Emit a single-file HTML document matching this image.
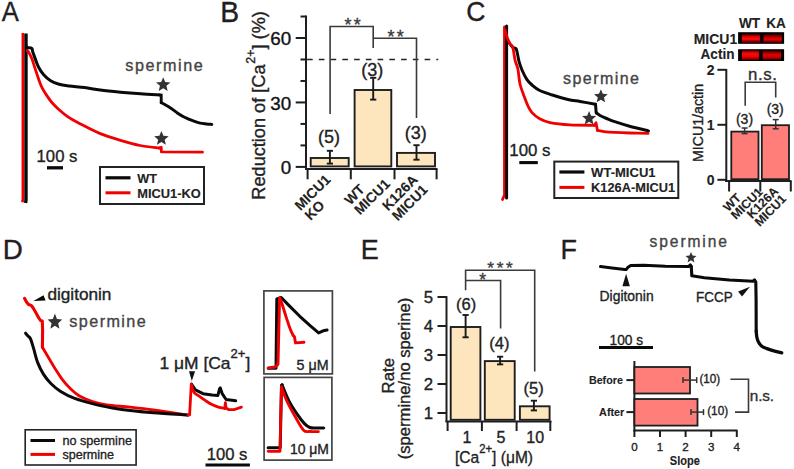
<!DOCTYPE html>
<html><head><meta charset="utf-8"><style>
html,body{margin:0;padding:0;background:#fff;}
svg{display:block;font-family:"Liberation Sans",sans-serif;}
</style></head><body>
<svg width="794" height="469" viewBox="0 0 794 469">
<defs>
<linearGradient id="gb1" x1="0" y1="0" x2="0" y2="1"><stop offset="0" stop-color="#400"/><stop offset="0.3" stop-color="#e00"/><stop offset="0.55" stop-color="#ff1010"/><stop offset="0.75" stop-color="#900"/><stop offset="1" stop-color="#300"/></linearGradient>
<linearGradient id="gb2" x1="0" y1="0" x2="0" y2="1"><stop offset="0" stop-color="#300"/><stop offset="0.35" stop-color="#b00"/><stop offset="0.6" stop-color="#e00"/><stop offset="0.8" stop-color="#800"/><stop offset="1" stop-color="#200"/></linearGradient>
<linearGradient id="gb3" x1="0" y1="0" x2="0" y2="1"><stop offset="0" stop-color="#700"/><stop offset="0.35" stop-color="#ff0a0a"/><stop offset="0.65" stop-color="#e00"/><stop offset="1" stop-color="#500"/></linearGradient>
<linearGradient id="gb4" x1="0" y1="0" x2="0" y2="1"><stop offset="0" stop-color="#400"/><stop offset="0.4" stop-color="#d00"/><stop offset="0.7" stop-color="#c00"/><stop offset="1" stop-color="#400"/></linearGradient>
</defs>
<rect width="794" height="469" fill="#fff"/>
<text stroke="#221e1f" stroke-width="0.35" x="0" y="0" font-size="27.9" fill="#221e1f" text-anchor="start" font-weight="normal" transform="translate(1.85,21.3) scale(0.92,1)">A</text>
<text stroke="#221e1f" stroke-width="0.35" x="0" y="0" font-size="28.6" fill="#221e1f" text-anchor="start" font-weight="normal" transform="translate(220.2,21.7) scale(0.99,1)">B</text>
<text stroke="#221e1f" stroke-width="0.35" x="0" y="0" font-size="27.5" fill="#221e1f" text-anchor="start" font-weight="normal" transform="translate(466.3,21.3) scale(0.965,1)">C</text>
<text stroke="#221e1f" stroke-width="0.35" x="0" y="0" font-size="27.8" fill="#221e1f" text-anchor="start" font-weight="normal" transform="translate(2.7,259) scale(1.0,1)">D</text>
<text stroke="#221e1f" stroke-width="0.35" x="0" y="0" font-size="27.8" fill="#221e1f" text-anchor="start" font-weight="normal" transform="translate(360.7,259) scale(0.97,1)">E</text>
<text stroke="#221e1f" stroke-width="0.35" x="0" y="0" font-size="27.8" fill="#221e1f" text-anchor="start" font-weight="normal" transform="translate(560.5,259) scale(0.97,1)">F</text>
<path d="M22.90,33.00 L22.90,199.00 L22.40,202.30" fill="none" stroke="#f00000" stroke-width="2.7" stroke-linejoin="round" stroke-linecap="butt"/>
<path d="M26.00,33.50 L26.00,200.00 L25.60,203.00" fill="none" stroke="#0a0a0a" stroke-width="3.4" stroke-linejoin="round" stroke-linecap="butt"/>
<path d="M27.20,50.50 C27.40,50.72 27.63,50.45 28.40,51.80 C29.17,53.15 30.67,55.75 31.80,58.60 C32.93,61.45 34.07,65.48 35.20,68.90 C36.33,72.32 37.47,75.98 38.60,79.10 C39.73,82.22 40.57,84.77 42.00,87.60 C43.43,90.43 45.48,93.53 47.20,96.10 C48.92,98.67 50.32,100.72 52.30,103.00 C54.28,105.28 56.55,107.53 59.10,109.80 C61.65,112.07 64.20,114.33 67.60,116.60 C71.00,118.87 74.05,120.57 79.50,123.40 C84.95,126.23 93.47,130.78 100.30,133.60 C107.13,136.42 113.87,138.32 120.50,140.30 C127.13,142.28 133.65,144.22 140.10,145.50 C146.55,146.78 156.02,147.58 159.20,148.00" fill="none" stroke="#f00000" stroke-width="2.8" stroke-linejoin="round" stroke-linecap="round" />
<path d="M159.20,148.00 L161.20,147.20 L161.40,151.90 L202.50,152.20" fill="none" stroke="#f00000" stroke-width="2.8" stroke-linejoin="round" stroke-linecap="round" />
<path d="M26.50,46.50 C26.68,46.68 26.72,47.28 27.60,47.60 C28.48,47.92 30.95,47.70 31.80,48.40 C32.65,49.10 32.13,50.10 32.70,51.80 C33.27,53.50 34.22,56.03 35.20,58.60 C36.18,61.17 37.18,64.50 38.60,67.20 C40.02,69.90 41.70,72.53 43.70,74.80 C45.70,77.07 48.03,79.23 50.60,80.80 C53.17,82.37 55.98,83.35 59.10,84.20 C62.22,85.05 65.03,85.33 69.30,85.90 C73.57,86.47 79.53,86.90 84.70,87.60 C89.87,88.30 94.33,89.33 100.30,90.10 C106.27,90.87 113.78,91.58 120.50,92.20 C127.22,92.82 134.07,93.35 140.60,93.80 C147.13,94.25 156.52,94.72 159.70,94.90" fill="none" stroke="#0a0a0a" stroke-width="3" stroke-linejoin="round" stroke-linecap="round" />
<path d="M159.70,94.90 L161.20,95.10 L161.20,102.60" fill="none" stroke="#0a0a0a" stroke-width="2.9" stroke-linecap="round" stroke-linejoin="miter"/>
<path d="M161.20,102.60 C162.00,103.03 164.32,104.23 166.00,105.20 C167.68,106.17 169.35,107.07 171.30,108.40 C173.25,109.73 175.57,111.77 177.70,113.20 C179.83,114.63 181.62,115.75 184.10,117.00 C186.58,118.25 189.93,119.68 192.60,120.70 C195.27,121.72 197.78,122.57 200.10,123.10 C202.42,123.63 204.55,123.68 206.50,123.90 C208.45,124.12 210.92,124.32 211.80,124.40" fill="none" stroke="#0a0a0a" stroke-width="3" stroke-linejoin="round" stroke-linecap="round" />
<polygon points="163.20,77.20 165.21,82.03 170.43,82.45 166.45,85.86 167.67,90.95 163.20,88.22 158.73,90.95 159.95,85.86 155.97,82.45 161.19,82.03" fill="#333"/>
<polygon points="161.40,131.00 163.41,135.83 168.63,136.25 164.65,139.66 165.87,144.75 161.40,142.02 156.93,144.75 158.15,139.66 154.17,136.25 159.39,135.83" fill="#333"/>
<text stroke="#444" stroke-width="0.35" x="125.3" y="71.4" font-size="16.2" fill="#444" text-anchor="start" font-weight="normal" textLength="77.5" lengthAdjust="spacing" >spermine</text>
<text stroke="#222" stroke-width="0.35" x="36.6" y="162.2" font-size="17" fill="#222" text-anchor="start" font-weight="normal" textLength="40.8" lengthAdjust="spacingAndGlyphs" >100 s</text>
<line x1="47" y1="167.8" x2="63" y2="167.8" stroke="#0a0a0a" stroke-width="3.3" />
<rect x="100" y="167" width="104" height="37" fill="none" stroke="#222" stroke-width="2"/>
<line x1="105.5" y1="177.8" x2="130.5" y2="177.8" stroke="#0a0a0a" stroke-width="3.2" />
<line x1="105.5" y1="192.8" x2="130.5" y2="192.8" stroke="#f00000" stroke-width="3" />
<text stroke="#222" stroke-width="0.12" x="137.3" y="182.7" font-size="13" fill="#222" text-anchor="start" font-weight="bold" textLength="19.7" lengthAdjust="spacingAndGlyphs" >WT</text>
<text stroke="#222" stroke-width="0.12" x="137.3" y="197.8" font-size="13" fill="#222" text-anchor="start" font-weight="bold" textLength="63.5" lengthAdjust="spacingAndGlyphs" >MICU1-KO</text>
<line x1="306" y1="15.6" x2="306" y2="170" stroke="#1e1e1e" stroke-width="2" />
<line x1="300.5" y1="16.51666666666668" x2="306" y2="16.51666666666668" stroke="#1e1e1e" stroke-width="2" />
<line x1="295.7" y1="38.0" x2="306" y2="38.0" stroke="#1e1e1e" stroke-width="2" />
<line x1="300.5" y1="59.483333333333334" x2="306" y2="59.483333333333334" stroke="#1e1e1e" stroke-width="2" />
<line x1="300.5" y1="80.96666666666667" x2="306" y2="80.96666666666667" stroke="#1e1e1e" stroke-width="2" />
<line x1="295.7" y1="102.45" x2="306" y2="102.45" stroke="#1e1e1e" stroke-width="2" />
<line x1="300.5" y1="123.93333333333334" x2="306" y2="123.93333333333334" stroke="#1e1e1e" stroke-width="2" />
<line x1="300.5" y1="145.41666666666669" x2="306" y2="145.41666666666669" stroke="#1e1e1e" stroke-width="2" />
<line x1="295.7" y1="166.9" x2="306" y2="166.9" stroke="#1e1e1e" stroke-width="2" />
<text stroke="#111" stroke-width="0.35" x="291.2" y="45.3" font-size="18.8" fill="#111" text-anchor="end" font-weight="normal" >60</text>
<text stroke="#111" stroke-width="0.35" x="291.2" y="109.75" font-size="18.8" fill="#111" text-anchor="end" font-weight="normal" >30</text>
<text stroke="#111" stroke-width="0.35" x="291.2" y="174.20000000000002" font-size="18.8" fill="#111" text-anchor="end" font-weight="normal" >0</text>
<line x1="305" y1="169.1" x2="437.5" y2="169.1" stroke="#1e1e1e" stroke-width="2" />
<line x1="307.6" y1="169.1" x2="307.6" y2="179.3" stroke="#1e1e1e" stroke-width="2" />
<line x1="350.8" y1="169.1" x2="350.8" y2="179.3" stroke="#1e1e1e" stroke-width="2" />
<line x1="394.5" y1="169.1" x2="394.5" y2="179.3" stroke="#1e1e1e" stroke-width="2" />
<line x1="436.6" y1="169.1" x2="436.6" y2="179.3" stroke="#1e1e1e" stroke-width="2" />
<line x1="307.1" y1="59.4" x2="438.2" y2="59.4" stroke="#222" stroke-width="1.5" stroke-dasharray="5.6,6.15"/>
<rect x="310.7" y="158" width="38.0" height="8.400000000000006" fill="#fde6bd" stroke="#1e1e1e" stroke-width="1.9"/>
<rect x="354.6" y="90" width="36.69999999999999" height="76.4" fill="#fde6bd" stroke="#1e1e1e" stroke-width="1.9"/>
<rect x="397" y="152.9" width="38" height="13.5" fill="#fde6bd" stroke="#1e1e1e" stroke-width="1.9"/>
<line x1="329.9" y1="150.8" x2="329.9" y2="163.6" stroke="#1a1a1a" stroke-width="1.9" />
<line x1="326.79999999999995" y1="150.8" x2="333.0" y2="150.8" stroke="#1a1a1a" stroke-width="1.9" />
<line x1="326.79999999999995" y1="163.6" x2="333.0" y2="163.6" stroke="#1a1a1a" stroke-width="1.9" />
<line x1="373.2" y1="77.8" x2="373.2" y2="99.6" stroke="#1a1a1a" stroke-width="1.9" />
<line x1="370.09999999999997" y1="77.8" x2="376.3" y2="77.8" stroke="#1a1a1a" stroke-width="1.9" />
<line x1="370.09999999999997" y1="99.6" x2="376.3" y2="99.6" stroke="#1a1a1a" stroke-width="1.9" />
<line x1="416.5" y1="145.2" x2="416.5" y2="159.7" stroke="#1a1a1a" stroke-width="1.9" />
<line x1="413.4" y1="145.2" x2="419.6" y2="145.2" stroke="#1a1a1a" stroke-width="1.9" />
<line x1="413.4" y1="159.7" x2="419.6" y2="159.7" stroke="#1a1a1a" stroke-width="1.9" />
<text stroke="#222" stroke-width="0.35" x="329" y="143.3" font-size="18" fill="#222" text-anchor="middle" font-weight="normal" >(5)</text>
<text stroke="#222" stroke-width="0.35" x="372.2" y="76.1" font-size="18" fill="#222" text-anchor="middle" font-weight="normal" >(3)</text>
<text stroke="#222" stroke-width="0.35" x="415.8" y="139.4" font-size="18" fill="#222" text-anchor="middle" font-weight="normal" >(3)</text>
<path d="M330.10,113.90 L330.10,26.50 L373.20,26.50 L373.20,48.00" fill="none" stroke="#3a3a3a" stroke-width="1.6" stroke-linecap="butt" stroke-linejoin="miter"/>
<path d="M373.20,38.20 L416.50,38.20 L416.50,118.10" fill="none" stroke="#3a3a3a" stroke-width="1.6" stroke-linecap="butt" stroke-linejoin="miter"/>
<text stroke="#3a3a3a" stroke-width="0.35" x="352.6" y="30.6" font-size="18" fill="#3a3a3a" text-anchor="middle" font-weight="normal" textLength="16.2" lengthAdjust="spacing" >**</text>
<text stroke="#3a3a3a" stroke-width="0.35" x="395.6" y="42.5" font-size="18" fill="#3a3a3a" text-anchor="middle" font-weight="normal" textLength="16.2" lengthAdjust="spacing" >**</text>
<text stroke="#222" stroke-width="0.35" transform="translate(264.6,105.4) rotate(-90)" font-size="18.15" fill="#222" text-anchor="middle">Reduction of [Ca<tspan font-size="12.5" dx="0.8" dy="-9.5">2+</tspan><tspan dy="9.5">] (%)</tspan></text>
<text stroke="#222" stroke-width="0.12" transform="translate(300.6,211.2) rotate(-45)" font-size="14" fill="#222" font-weight="bold" text-anchor="start"><tspan x="0" y="0">MICU1</tspan><tspan x="0" y="14">KO</tspan></text>
<text stroke="#222" stroke-width="0.12" transform="translate(350.2,205.7) rotate(-45)" font-size="14" fill="#222" font-weight="bold" text-anchor="start"><tspan x="0" y="0">WT</tspan><tspan x="0" y="14">MICU1</tspan></text>
<text stroke="#222" stroke-width="0.12" transform="translate(387.9,211.5) rotate(-45)" font-size="14" fill="#222" font-weight="bold" text-anchor="start"><tspan x="0" y="0">K126A</tspan><tspan x="0" y="14">MICU1</tspan></text>
<path d="M504.50,27.00 L504.50,195.00 L502.50,199.50" fill="none" stroke="#f00000" stroke-width="2.8" stroke-linejoin="round" stroke-linecap="round" />
<path d="M506.60,26.00 L506.60,198.00" fill="none" stroke="#0a0a0a" stroke-width="3" stroke-linejoin="round" stroke-linecap="round" />
<path d="M506.50,38.00 C507.08,39.00 508.92,42.42 510.00,44.00 C511.08,45.58 512.00,46.73 513.00,47.50 C514.00,48.27 515.25,47.52 516.00,48.60 C516.75,49.68 517.00,51.87 517.50,54.00 C518.00,56.13 518.25,58.73 519.00,61.40 C519.75,64.07 520.70,67.02 522.00,70.00 C523.30,72.98 525.13,76.80 526.80,79.30 C528.47,81.80 529.85,83.13 532.00,85.00 C534.15,86.87 536.30,88.83 539.70,90.50 C543.10,92.17 547.68,93.50 552.40,95.00 C557.12,96.50 563.40,98.42 568.00,99.50 C572.60,100.58 575.42,100.72 580.00,101.50 C584.58,102.28 592.92,103.75 595.50,104.20" fill="none" stroke="#0a0a0a" stroke-width="3" stroke-linejoin="round" stroke-linecap="round" />
<path d="M595.50,104.20 L596.20,113.00" fill="none" stroke="#0a0a0a" stroke-width="3" stroke-linejoin="round" stroke-linecap="round" />
<path d="M596.50,113.00 C597.08,113.42 598.32,114.58 600.00,115.50 C601.68,116.42 604.15,117.47 606.60,118.50 C609.05,119.53 610.87,120.42 614.70,121.70 C618.53,122.98 623.97,124.67 629.60,126.20 C635.23,127.73 645.35,130.12 648.50,130.90" fill="none" stroke="#0a0a0a" stroke-width="3" stroke-linejoin="round" stroke-linecap="round" />
<path d="M505.00,30.00 C505.43,31.40 506.77,36.07 507.60,38.40 C508.43,40.73 509.13,42.52 510.00,44.00 C510.87,45.48 511.97,44.63 512.80,47.30 C513.63,49.97 514.15,56.38 515.00,60.00 C515.85,63.62 517.07,65.00 517.90,69.00 C518.73,73.00 518.92,79.33 520.00,84.00 C521.08,88.67 523.07,93.33 524.40,97.00 C525.73,100.67 526.73,103.40 528.00,106.00 C529.27,108.60 530.05,110.47 532.00,112.60 C533.95,114.73 536.70,117.13 539.70,118.80 C542.70,120.47 544.95,121.58 550.00,122.60 C555.05,123.62 562.58,124.45 570.00,124.90 C577.42,125.35 590.42,125.23 594.50,125.30" fill="none" stroke="#f00000" stroke-width="2.8" stroke-linejoin="round" stroke-linecap="round" />
<path d="M594.50,125.30 L596.00,122.80 L597.50,130.50" fill="none" stroke="#f00000" stroke-width="2.8" stroke-linejoin="round" stroke-linecap="round" />
<path d="M597.50,130.50 C598.58,130.68 601.08,131.28 604.00,131.60 C606.92,131.92 610.67,132.17 615.00,132.40 C619.33,132.63 624.50,132.83 630.00,133.00 C635.50,133.17 645.00,133.33 648.00,133.40" fill="none" stroke="#f00000" stroke-width="2.8" stroke-linejoin="round" stroke-linecap="round" />
<polygon points="600.90,89.20 602.80,93.78 607.75,94.18 603.98,97.40 605.13,102.22 600.90,99.64 596.67,102.22 597.82,97.40 594.05,94.18 599.00,93.78" fill="#333"/>
<polygon points="589.10,111.00 591.06,115.71 596.14,116.11 592.27,119.43 593.45,124.39 589.10,121.73 584.75,124.39 585.93,119.43 582.06,116.11 587.14,115.71" fill="#333"/>
<text stroke="#444" stroke-width="0.35" x="563" y="83.8" font-size="16" fill="#444" text-anchor="start" font-weight="normal" textLength="76" lengthAdjust="spacing" >spermine</text>
<text stroke="#222" stroke-width="0.35" x="509.3" y="155.8" font-size="17" fill="#222" text-anchor="start" font-weight="normal" textLength="41.2" lengthAdjust="spacingAndGlyphs" >100 s</text>
<line x1="519.3" y1="162.6" x2="537.8" y2="162.6" stroke="#0a0a0a" stroke-width="3.1" />
<rect x="554.3" y="161.6" width="124" height="36.4" fill="none" stroke="#222" stroke-width="2"/>
<line x1="559.4" y1="172" x2="584.4" y2="172" stroke="#0a0a0a" stroke-width="3.2" />
<line x1="559.4" y1="187.4" x2="584.4" y2="187.4" stroke="#f00000" stroke-width="3" />
<text stroke="#222" stroke-width="0.12" x="591.1" y="176.8" font-size="13.5" fill="#222" text-anchor="start" font-weight="bold" textLength="64.5" lengthAdjust="spacingAndGlyphs" >WT-MICU1</text>
<text stroke="#222" stroke-width="0.12" x="591.1" y="192.3" font-size="13.5" fill="#222" text-anchor="start" font-weight="bold" textLength="84" lengthAdjust="spacingAndGlyphs" >K126A-MICU1</text>
<text stroke="#222" stroke-width="0.12" x="738.9" y="28.2" font-size="15.5" fill="#222" text-anchor="start" font-weight="bold" textLength="21.3" lengthAdjust="spacingAndGlyphs" >WT</text>
<text stroke="#222" stroke-width="0.12" x="766.2" y="28.2" font-size="15.5" fill="#222" text-anchor="start" font-weight="bold" textLength="19.6" lengthAdjust="spacingAndGlyphs" >KA</text>
<text stroke="#222" stroke-width="0.12" x="693.7" y="43.5" font-size="15.5" fill="#222" text-anchor="start" font-weight="bold" textLength="43.5" lengthAdjust="spacingAndGlyphs" >MICU1</text>
<text stroke="#222" stroke-width="0.12" x="700.5" y="58.9" font-size="15.5" fill="#222" text-anchor="start" font-weight="bold" textLength="34" lengthAdjust="spacingAndGlyphs" >Actin</text>
<rect x="738.1" y="32.2" width="46" height="11.6" fill="#050000"/>
<rect x="738.1" y="49.2" width="46" height="11.8" fill="#050000"/>
<rect x="741.9" y="34.2" width="18" height="9" fill="url(#gb1)"/>
<rect x="763.5" y="34.2" width="18.3" height="9" fill="url(#gb2)"/>
<rect x="741.9" y="50.5" width="17" height="9.5" fill="url(#gb3)"/>
<rect x="762.6" y="50.8" width="18.4" height="9" fill="url(#gb4)"/>
<line x1="726.3" y1="69" x2="726.3" y2="182" stroke="#1e1e1e" stroke-width="2" />
<line x1="717.4" y1="69.80000000000001" x2="726.3" y2="69.80000000000001" stroke="#1e1e1e" stroke-width="2" />
<text stroke="#222" stroke-width="0.12" x="714.6" y="75.4" font-size="14" fill="#222" text-anchor="end" font-weight="bold" >2</text>
<line x1="717.4" y1="124.80000000000001" x2="726.3" y2="124.80000000000001" stroke="#1e1e1e" stroke-width="2" />
<text stroke="#222" stroke-width="0.12" x="714.6" y="130.4" font-size="14" fill="#222" text-anchor="end" font-weight="bold" >1</text>
<line x1="717.4" y1="179.8" x2="726.3" y2="179.8" stroke="#1e1e1e" stroke-width="2" />
<text stroke="#222" stroke-width="0.12" x="714.6" y="185.4" font-size="14" fill="#222" text-anchor="end" font-weight="bold" >0</text>
<line x1="725" y1="181.1" x2="791.5" y2="181.1" stroke="#1e1e1e" stroke-width="2" />
<line x1="729.1" y1="181.1" x2="729.1" y2="191.5" stroke="#1e1e1e" stroke-width="2" />
<line x1="760.3" y1="181.1" x2="760.3" y2="191.5" stroke="#1e1e1e" stroke-width="2" />
<line x1="790.8" y1="181.1" x2="790.8" y2="191.5" stroke="#1e1e1e" stroke-width="2" />
<rect x="731.3" y="131.6" width="27.2" height="47.6" fill="#ff7e7a" stroke="#1e1e1e" stroke-width="1.8"/>
<rect x="761.8" y="125.2" width="27.2" height="54" fill="#ff7e7a" stroke="#1e1e1e" stroke-width="1.8"/>
<line x1="744.6" y1="128" x2="744.6" y2="133.6" stroke="#333" stroke-width="1.5" />
<line x1="741.6" y1="128" x2="747.6" y2="128" stroke="#333" stroke-width="1.5" />
<line x1="741.6" y1="133.6" x2="747.6" y2="133.6" stroke="#333" stroke-width="1.5" />
<line x1="775.7" y1="119.6" x2="775.7" y2="128.8" stroke="#333" stroke-width="1.5" />
<line x1="772.7" y1="119.6" x2="778.7" y2="119.6" stroke="#333" stroke-width="1.5" />
<line x1="772.7" y1="128.8" x2="778.7" y2="128.8" stroke="#333" stroke-width="1.5" />
<text stroke="#222" stroke-width="0.35" x="744.5" y="123.7" font-size="14" fill="#222" text-anchor="middle" font-weight="normal" >(3)</text>
<text stroke="#222" stroke-width="0.35" x="775.2" y="114.1" font-size="14" fill="#222" text-anchor="middle" font-weight="normal" >(3)</text>
<path d="M745.20,105.80 L745.20,82.20 L775.70,82.20 L775.70,97.50" fill="none" stroke="#3a3a3a" stroke-width="1.6" stroke-linecap="butt" stroke-linejoin="miter"/>
<text stroke="#2e2e2e" stroke-width="0.35" x="748" y="80" font-size="16.8" fill="#2e2e2e" text-anchor="start" font-weight="normal" textLength="29" lengthAdjust="spacing" >n.s.</text>
<text stroke="#222" stroke-width="0.35" transform="translate(702.5,123) rotate(-90)" font-size="14.2" fill="#222" text-anchor="middle">MICU1/actin</text>
<text stroke="#222" stroke-width="0.12" transform="translate(728.3,212.3) rotate(-45)" font-size="12.4" fill="#222" font-weight="bold" text-anchor="start"><tspan x="0" y="0">WT</tspan><tspan x="0" y="11">MICU1</tspan></text>
<text stroke="#222" stroke-width="0.12" transform="translate(751.9,219.2) rotate(-45)" font-size="12.4" fill="#222" font-weight="bold" text-anchor="start"><tspan x="0" y="0">K126A</tspan><tspan x="0" y="11">MICU1</tspan></text>
<path d="M24.50,298.30 L26.50,302.00 L28.50,304.50 L31.20,305.40 L33.00,307.80 L35.50,312.00 L38.80,318.00 L40.50,320.50 L42.30,321.00 L42.60,330.00 L42.40,347.30" fill="none" stroke="#f00000" stroke-width="3.1" stroke-linejoin="round" stroke-linecap="round" />
<path d="M42.40,347.30 C43.53,349.22 47.10,355.28 49.20,358.80 C51.30,362.32 52.77,364.88 55.00,368.40 C57.23,371.92 60.05,376.55 62.60,379.90 C65.15,383.25 67.42,385.78 70.30,388.50 C73.18,391.22 76.07,393.98 79.90,396.20 C83.73,398.42 88.82,400.35 93.30,401.80 C97.78,403.25 100.68,404.00 106.80,404.90 C112.92,405.80 122.22,406.35 130.00,407.20 C137.78,408.05 143.83,408.68 153.50,410.00 C163.17,411.32 182.25,414.25 188.00,415.10" fill="none" stroke="#f00000" stroke-width="2.8" stroke-linejoin="round" stroke-linecap="round" />
<path d="M25.60,333.20 C26.00,333.67 27.27,335.22 28.00,336.00 C28.73,336.78 29.42,336.98 30.00,337.90 C30.58,338.82 30.87,339.62 31.50,341.50 C32.13,343.38 32.77,345.68 33.80,349.20 C34.83,352.72 36.10,358.45 37.70,362.60 C39.30,366.75 41.17,370.58 43.40,374.10 C45.63,377.62 48.22,380.82 51.10,383.70 C53.98,386.58 56.87,389.00 60.70,391.40 C64.53,393.80 68.67,396.02 74.10,398.10 C79.53,400.18 86.90,402.27 93.30,403.90 C99.70,405.53 106.38,406.78 112.50,407.90 C118.62,409.02 123.17,409.78 130.00,410.60 C136.83,411.42 143.83,412.07 153.50,412.80 C163.17,413.53 182.25,414.63 188.00,415.00" fill="none" stroke="#0a0a0a" stroke-width="3" stroke-linejoin="round" stroke-linecap="round" />
<path d="M188.00,415.10 L189.60,414.80 L191.30,384.10" fill="none" stroke="#f00000" stroke-width="2.8" stroke-linejoin="round" stroke-linecap="round" />
<path d="M191.50,384.20 L195.40,389.80 L203.00,393.70 L212.00,395.00 L217.80,395.60 L219.50,389.00 L220.30,387.90 L222.20,393.70 L226.10,399.50 L235.70,400.70" fill="none" stroke="#0a0a0a" stroke-width="3" stroke-linejoin="round" stroke-linecap="round" />
<path d="M191.30,384.10 C191.77,385.48 192.78,390.38 194.10,392.40 C195.42,394.42 197.28,394.82 199.20,396.20 C201.12,397.58 203.47,399.30 205.60,400.70 C207.73,402.10 209.87,403.53 212.00,404.60 C214.13,405.67 216.27,406.47 218.40,407.10 C220.53,407.73 223.73,408.18 224.80,408.40" fill="none" stroke="#f00000" stroke-width="2.8" stroke-linejoin="round" stroke-linecap="round" />
<path d="M224.80,408.40 L225.40,402.60 L226.00,408.00 L228.60,409.70 L233.80,409.70 L241.40,407.10" fill="none" stroke="#f00000" stroke-width="2.8" stroke-linejoin="round" stroke-linecap="round" />
<polygon points="189,371.3 195.1,371.3 191.8,380.9" fill="#111"/>
<text stroke="#222" stroke-width="0.35" x="0" y="0" font-size="16" fill="#222" text-anchor="start" font-weight="normal" transform="translate(159.5,368.9) scale(1.09,1)">1 μM [Ca<tspan font-size="12" dy="-10.5">2+</tspan><tspan dy="10.5">]</tspan></text>
<polygon points="33.4,301 43.5,295.2 45.6,300.4" fill="#0a0a0a"/>
<text stroke="#222" stroke-width="0.35" x="47.4" y="299.6" font-size="16" fill="#222" text-anchor="start" font-weight="normal" textLength="64" lengthAdjust="spacingAndGlyphs" >digitonin</text>
<polygon points="54.90,313.53 56.94,318.92 62.22,319.38 58.20,323.18 59.43,328.85 54.90,325.81 50.37,328.85 51.60,323.18 47.58,319.38 52.86,318.92" fill="#333"/>
<text stroke="#444" stroke-width="0.35" x="69.3" y="326.9" font-size="16.2" fill="#444" text-anchor="start" font-weight="normal" textLength="76.5" lengthAdjust="spacing" >spermine</text>
<rect x="25.2" y="429.8" width="110.9" height="35.2" fill="none" stroke="#222" stroke-width="1.6"/>
<line x1="30.5" y1="440.5" x2="55" y2="440.5" stroke="#0a0a0a" stroke-width="3" />
<line x1="30.5" y1="454.4" x2="55" y2="454.4" stroke="#f00000" stroke-width="3" />
<text stroke="#222" stroke-width="0.35" x="62.4" y="444.9" font-size="13.5" fill="#222" text-anchor="start" font-weight="normal" textLength="69.6" lengthAdjust="spacingAndGlyphs" >no spermine</text>
<text stroke="#222" stroke-width="0.35" x="62.4" y="458.5" font-size="13.5" fill="#222" text-anchor="start" font-weight="normal" textLength="51.7" lengthAdjust="spacingAndGlyphs" >spermine</text>
<text stroke="#222" stroke-width="0.35" x="206.7" y="459.7" font-size="17" fill="#222" text-anchor="start" font-weight="normal" textLength="40.6" lengthAdjust="spacingAndGlyphs" >100 s</text>
<line x1="205.5" y1="465" x2="249.9" y2="465" stroke="#0a0a0a" stroke-width="3" />
<rect x="263.9" y="290.9" width="68.5" height="83" fill="none" stroke="#444" stroke-width="1.7"/>
<rect x="264.1" y="377.4" width="67.8" height="82.7" fill="none" stroke="#444" stroke-width="1.7"/>
<path d="M268.20,368.20 L276.00,368.20 L276.80,299.00 L281.20,297.50 L289.10,305.60 L299.80,316.30 L310.40,325.90 L318.60,332.90 L323.20,330.80 L327.10,330.10" fill="none" stroke="#0a0a0a" stroke-width="3" stroke-linejoin="round" stroke-linecap="round" />
<path d="M268.20,367.90 L275.30,367.00 L278.00,364.20 L279.60,298.00" fill="none" stroke="#f00000" stroke-width="2.9" stroke-linejoin="round" stroke-linecap="round" />
<path d="M279.60,298.00 C279.98,298.92 280.85,300.45 281.90,303.50 C282.95,306.55 284.52,312.05 285.90,316.30 C287.28,320.55 288.98,325.80 290.20,329.00 C291.42,332.20 292.70,334.42 293.20,335.50" fill="none" stroke="#f00000" stroke-width="2.9" stroke-linejoin="round" stroke-linecap="round" />
<path d="M293.20,335.50 L294.40,336.50 L295.50,342.90 L304.00,342.30" fill="none" stroke="#f00000" stroke-width="2.9" stroke-linejoin="round" stroke-linecap="round" />
<text stroke="#222" stroke-width="0.35" x="296.6" y="370.3" font-size="14.3" fill="#222" text-anchor="start" font-weight="normal" textLength="32" lengthAdjust="spacingAndGlyphs" >5 μM</text>
<path d="M268.10,447.80 L280.20,447.80 L281.50,385.20 L282.20,384.80" fill="none" stroke="#0a0a0a" stroke-width="3" stroke-linejoin="round" stroke-linecap="round" />
<path d="M282.00,384.80 C283.13,387.43 286.25,395.67 288.80,400.60 C291.35,405.53 294.65,410.52 297.30,414.40 C299.95,418.28 302.60,421.72 304.70,423.90 C306.80,426.08 308.02,426.82 309.90,427.50 C311.78,428.18 313.70,427.90 316.00,428.00 C318.30,428.10 322.42,428.08 323.70,428.10" fill="none" stroke="#0a0a0a" stroke-width="3" stroke-linejoin="round" stroke-linecap="round" />
<path d="M268.10,451.30 L280.00,451.30 L281.40,386.90" fill="none" stroke="#f00000" stroke-width="2.8" stroke-linejoin="round" stroke-linecap="round" />
<path d="M281.40,386.90 C282.28,389.18 284.42,395.67 286.70,400.60 C288.98,405.53 292.28,411.57 295.10,416.50 C297.92,421.43 301.12,427.70 303.60,430.20 C306.08,432.70 307.53,431.25 310.00,431.50 C312.47,431.75 317.00,431.67 318.40,431.70" fill="none" stroke="#f00000" stroke-width="2.8" stroke-linejoin="round" stroke-linecap="round" />
<text stroke="#222" stroke-width="0.35" x="289.9" y="453.5" font-size="14" fill="#222" text-anchor="start" font-weight="normal" textLength="39" lengthAdjust="spacingAndGlyphs" >10 μM</text>
<line x1="446.5" y1="296.2" x2="446.5" y2="422" stroke="#1e1e1e" stroke-width="2" />
<line x1="437.5" y1="297" x2="446.5" y2="297" stroke="#1e1e1e" stroke-width="2" />
<text stroke="#222" stroke-width="0.35" x="433.1" y="303.2" font-size="16.8" fill="#222" text-anchor="end" font-weight="normal" >5</text>
<line x1="437.5" y1="326" x2="446.5" y2="326" stroke="#1e1e1e" stroke-width="2" />
<text stroke="#222" stroke-width="0.35" x="433.1" y="332.2" font-size="16.8" fill="#222" text-anchor="end" font-weight="normal" >4</text>
<line x1="437.5" y1="355" x2="446.5" y2="355" stroke="#1e1e1e" stroke-width="2" />
<text stroke="#222" stroke-width="0.35" x="433.1" y="361.2" font-size="16.8" fill="#222" text-anchor="end" font-weight="normal" >3</text>
<line x1="437.5" y1="384" x2="446.5" y2="384" stroke="#1e1e1e" stroke-width="2" />
<text stroke="#222" stroke-width="0.35" x="433.1" y="390.2" font-size="16.8" fill="#222" text-anchor="end" font-weight="normal" >2</text>
<line x1="437.5" y1="413" x2="446.5" y2="413" stroke="#1e1e1e" stroke-width="2" />
<text stroke="#222" stroke-width="0.35" x="433.1" y="419.2" font-size="16.8" fill="#222" text-anchor="end" font-weight="normal" >1</text>
<line x1="445.5" y1="421.5" x2="551.5" y2="421.5" stroke="#1e1e1e" stroke-width="2" />
<line x1="447.6" y1="421.5" x2="447.6" y2="431" stroke="#1e1e1e" stroke-width="2" />
<line x1="481.9" y1="421.5" x2="481.9" y2="431" stroke="#1e1e1e" stroke-width="2" />
<line x1="516.6" y1="421.5" x2="516.6" y2="431" stroke="#1e1e1e" stroke-width="2" />
<line x1="550.3" y1="421.5" x2="550.3" y2="431" stroke="#1e1e1e" stroke-width="2" />
<rect x="450.7" y="327" width="29.69999999999999" height="92.80000000000001" fill="#fde6bd" stroke="#1e1e1e" stroke-width="1.9"/>
<rect x="484.8" y="361.1" width="29.900000000000034" height="58.69999999999999" fill="#fde6bd" stroke="#1e1e1e" stroke-width="1.9"/>
<rect x="519.9" y="406.3" width="29.700000000000045" height="13.5" fill="#fde6bd" stroke="#1e1e1e" stroke-width="1.9"/>
<line x1="465.6" y1="315" x2="465.6" y2="337.3" stroke="#1a1a1a" stroke-width="1.9" />
<line x1="462.5" y1="315" x2="468.70000000000005" y2="315" stroke="#1a1a1a" stroke-width="1.9" />
<line x1="462.5" y1="337.3" x2="468.70000000000005" y2="337.3" stroke="#1a1a1a" stroke-width="1.9" />
<line x1="500.1" y1="356.7" x2="500.1" y2="364.4" stroke="#1a1a1a" stroke-width="1.9" />
<line x1="497.0" y1="356.7" x2="503.20000000000005" y2="356.7" stroke="#1a1a1a" stroke-width="1.9" />
<line x1="497.0" y1="364.4" x2="503.20000000000005" y2="364.4" stroke="#1a1a1a" stroke-width="1.9" />
<line x1="533.9" y1="400.7" x2="533.9" y2="410.4" stroke="#1a1a1a" stroke-width="1.9" />
<line x1="530.8" y1="400.7" x2="537.0" y2="400.7" stroke="#1a1a1a" stroke-width="1.9" />
<line x1="530.8" y1="410.4" x2="537.0" y2="410.4" stroke="#1a1a1a" stroke-width="1.9" />
<text stroke="#222" stroke-width="0.35" x="466.1" y="310.2" font-size="16.5" fill="#222" text-anchor="middle" font-weight="normal" >(6)</text>
<text stroke="#222" stroke-width="0.35" x="499.4" y="348.6" font-size="16.5" fill="#222" text-anchor="middle" font-weight="normal" >(4)</text>
<text stroke="#222" stroke-width="0.35" x="533.6" y="394.2" font-size="16.5" fill="#222" text-anchor="middle" font-weight="normal" >(5)</text>
<path d="M465.60,290.20 L465.60,270.20 L534.70,270.20 L534.70,371.50" fill="none" stroke="#3a3a3a" stroke-width="1.6" stroke-linecap="butt" stroke-linejoin="miter"/>
<path d="M465.60,280.50 L500.60,280.50 L500.60,328.60" fill="none" stroke="#3a3a3a" stroke-width="1.6" stroke-linecap="butt" stroke-linejoin="miter"/>
<text stroke="#3a3a3a" stroke-width="0.35" x="500" y="274.4" font-size="17.2" fill="#3a3a3a" text-anchor="middle" font-weight="normal" textLength="25.3" lengthAdjust="spacing" >***</text>
<text stroke="#3a3a3a" stroke-width="0.35" x="482.6" y="285.8" font-size="17.5" fill="#3a3a3a" text-anchor="middle" font-weight="normal" >*</text>
<text stroke="#222" stroke-width="0.35" x="467" y="442.6" font-size="16" fill="#222" text-anchor="middle" font-weight="normal" >1</text>
<text stroke="#222" stroke-width="0.35" x="500.9" y="442.6" font-size="16" fill="#222" text-anchor="middle" font-weight="normal" >5</text>
<text stroke="#222" stroke-width="0.35" x="535.2" y="442.6" font-size="16" fill="#222" text-anchor="middle" font-weight="normal" >10</text>
<text stroke="#222" stroke-width="0.35" x="0" y="0" font-size="17.2" fill="#222" text-anchor="start" font-weight="normal" transform="translate(455,462.9) scale(0.905,1)">[Ca<tspan font-size="12.5" dy="-9.5">2+</tspan><tspan dy="9.5">] (μM)</tspan></text>
<text stroke="#222" stroke-width="0.35" transform="translate(393.9,375.7) rotate(-90)" font-size="16.8" fill="#222" text-anchor="middle">Rate</text>
<text stroke="#222" stroke-width="0.35" transform="translate(409.6,378.5) rotate(-90)" font-size="16.6" fill="#222" text-anchor="middle">(spermine/no sperine)</text>
<text stroke="#444" stroke-width="0.35" x="649.6" y="247.1" font-size="15.6" fill="#444" text-anchor="start" font-weight="normal" textLength="77.3" lengthAdjust="spacing" >spermine</text>
<polygon points="691.00,251.90 692.53,255.59 696.52,255.91 693.48,258.51 694.41,262.39 691.00,260.31 687.59,262.39 688.52,258.51 685.48,255.91 689.47,255.59" fill="#333"/>
<path d="M600.50,266.60 L612.00,267.90 L624.80,269.40 L626.10,269.60 L628.00,267.30 L630.70,265.50 L643.90,265.20 L665.30,266.20 L688.50,266.60 L690.30,264.90 L691.30,266.50" fill="none" stroke="#0a0a0a" stroke-width="3" stroke-linejoin="round" stroke-linecap="round" />
<path d="M691.30,266.50 L691.80,275.80 L704.40,277.70 L729.40,280.00 L753.00,281.30 L754.50,279.80 L755.80,282.00 L756.10,300.00 L756.20,331.00" fill="none" stroke="#0a0a0a" stroke-width="3.1" stroke-linejoin="round" stroke-linecap="round" />
<path d="M756.20,331.00 C756.30,332.00 756.45,335.20 756.80,337.00 C757.15,338.80 757.52,340.30 758.30,341.80 C759.08,343.30 760.05,344.87 761.50,346.00 C762.95,347.13 765.08,347.83 767.00,348.60 C768.92,349.37 770.55,349.90 773.00,350.60 C775.45,351.30 780.25,352.43 781.70,352.80" fill="none" stroke="#0a0a0a" stroke-width="3.3" stroke-linejoin="round" stroke-linecap="round" />
<polygon points="626.1,273.8 622.4,286.2 629.9,286.2" fill="#111"/>
<polygon points="738.1,291.6 750,286.8 742,296.4" fill="#111"/>
<text stroke="#222" stroke-width="0.35" x="599.6" y="300.8" font-size="14.5" fill="#222" text-anchor="start" font-weight="normal" textLength="54" lengthAdjust="spacingAndGlyphs" >Digitonin</text>
<text stroke="#222" stroke-width="0.35" x="696.1" y="301.6" font-size="14.5" fill="#222" text-anchor="start" font-weight="normal" textLength="36.6" lengthAdjust="spacingAndGlyphs" >FCCP</text>
<text stroke="#222" stroke-width="0.35" x="609.6" y="344.7" font-size="14.5" fill="#222" text-anchor="start" font-weight="normal" textLength="33.6" lengthAdjust="spacingAndGlyphs" >100 s</text>
<line x1="599" y1="347.5" x2="653" y2="347.5" stroke="#0a0a0a" stroke-width="2.8" />
<line x1="634.4" y1="361" x2="634.4" y2="431.5" stroke="#1e1e1e" stroke-width="2" />
<line x1="633.4" y1="430.5" x2="737.5" y2="430.5" stroke="#1e1e1e" stroke-width="2" />
<line x1="634.4" y1="430.5" x2="634.4" y2="437" stroke="#1e1e1e" stroke-width="2" />
<text stroke="#222" stroke-width="0.35" x="634.4" y="451.1" font-size="11.6" fill="#222" text-anchor="middle" font-weight="normal" >0</text>
<line x1="660.0" y1="430.5" x2="660.0" y2="437" stroke="#1e1e1e" stroke-width="2" />
<text stroke="#222" stroke-width="0.35" x="660.0" y="451.1" font-size="11.6" fill="#222" text-anchor="middle" font-weight="normal" >1</text>
<line x1="685.6" y1="430.5" x2="685.6" y2="437" stroke="#1e1e1e" stroke-width="2" />
<text stroke="#222" stroke-width="0.35" x="685.6" y="451.1" font-size="11.6" fill="#222" text-anchor="middle" font-weight="normal" >2</text>
<line x1="711.2" y1="430.5" x2="711.2" y2="437" stroke="#1e1e1e" stroke-width="2" />
<text stroke="#222" stroke-width="0.35" x="711.2" y="451.1" font-size="11.6" fill="#222" text-anchor="middle" font-weight="normal" >3</text>
<line x1="736.8" y1="430.5" x2="736.8" y2="437" stroke="#1e1e1e" stroke-width="2" />
<text stroke="#222" stroke-width="0.35" x="736.8" y="451.1" font-size="11.6" fill="#222" text-anchor="middle" font-weight="normal" >4</text>
<rect x="634.4" y="367" width="55.6" height="26.5" fill="#ff7e7a" stroke="#1e1e1e" stroke-width="1.8"/>
<rect x="634.4" y="399" width="63.1" height="26.6" fill="#ff7e7a" stroke="#1e1e1e" stroke-width="1.8"/>
<line x1="683" y1="380.1" x2="696.7" y2="380.1" stroke="#333" stroke-width="1.5" />
<line x1="683" y1="377.1" x2="683" y2="383.1" stroke="#333" stroke-width="1.5" />
<line x1="696.7" y1="377.1" x2="696.7" y2="383.1" stroke="#333" stroke-width="1.5" />
<line x1="691" y1="412.1" x2="703.5" y2="412.1" stroke="#333" stroke-width="1.5" />
<line x1="691" y1="409.1" x2="691" y2="415.1" stroke="#333" stroke-width="1.5" />
<line x1="703.5" y1="409.1" x2="703.5" y2="415.1" stroke="#333" stroke-width="1.5" />
<line x1="626.4" y1="380.1" x2="634.4" y2="380.1" stroke="#1e1e1e" stroke-width="2" />
<line x1="626.4" y1="412.1" x2="634.4" y2="412.1" stroke="#1e1e1e" stroke-width="2" />
<text stroke="#222" stroke-width="0.35" x="699.4" y="383.3" font-size="12" fill="#222" text-anchor="start" font-weight="normal" textLength="20.8" lengthAdjust="spacingAndGlyphs" >(10)</text>
<text stroke="#222" stroke-width="0.35" x="707.2" y="415.3" font-size="12" fill="#222" text-anchor="start" font-weight="normal" textLength="21" lengthAdjust="spacingAndGlyphs" >(10)</text>
<text stroke="#222" stroke-width="0.12" x="622.9" y="384.3" font-size="11.5" fill="#222" text-anchor="end" font-weight="bold" textLength="34" lengthAdjust="spacingAndGlyphs" >Before</text>
<text stroke="#222" stroke-width="0.12" x="624.3" y="416.3" font-size="11.5" fill="#222" text-anchor="end" font-weight="bold" textLength="25.2" lengthAdjust="spacingAndGlyphs" >After</text>
<path d="M730.40,379.30 L748.50,379.30 L748.50,412.10 L735.00,412.10" fill="none" stroke="#3a3a3a" stroke-width="1.6" stroke-linecap="butt" stroke-linejoin="miter"/>
<text stroke="#2e2e2e" stroke-width="0.35" x="749.8" y="400.8" font-size="15.3" fill="#2e2e2e" text-anchor="start" font-weight="normal" textLength="24.3" lengthAdjust="spacing" >n.s.</text>
<text stroke="#222" stroke-width="0.12" x="669.8" y="465.2" font-size="12.2" fill="#222" text-anchor="start" font-weight="bold" textLength="30.1" lengthAdjust="spacingAndGlyphs" >Slope</text>
</svg>
</body></html>
